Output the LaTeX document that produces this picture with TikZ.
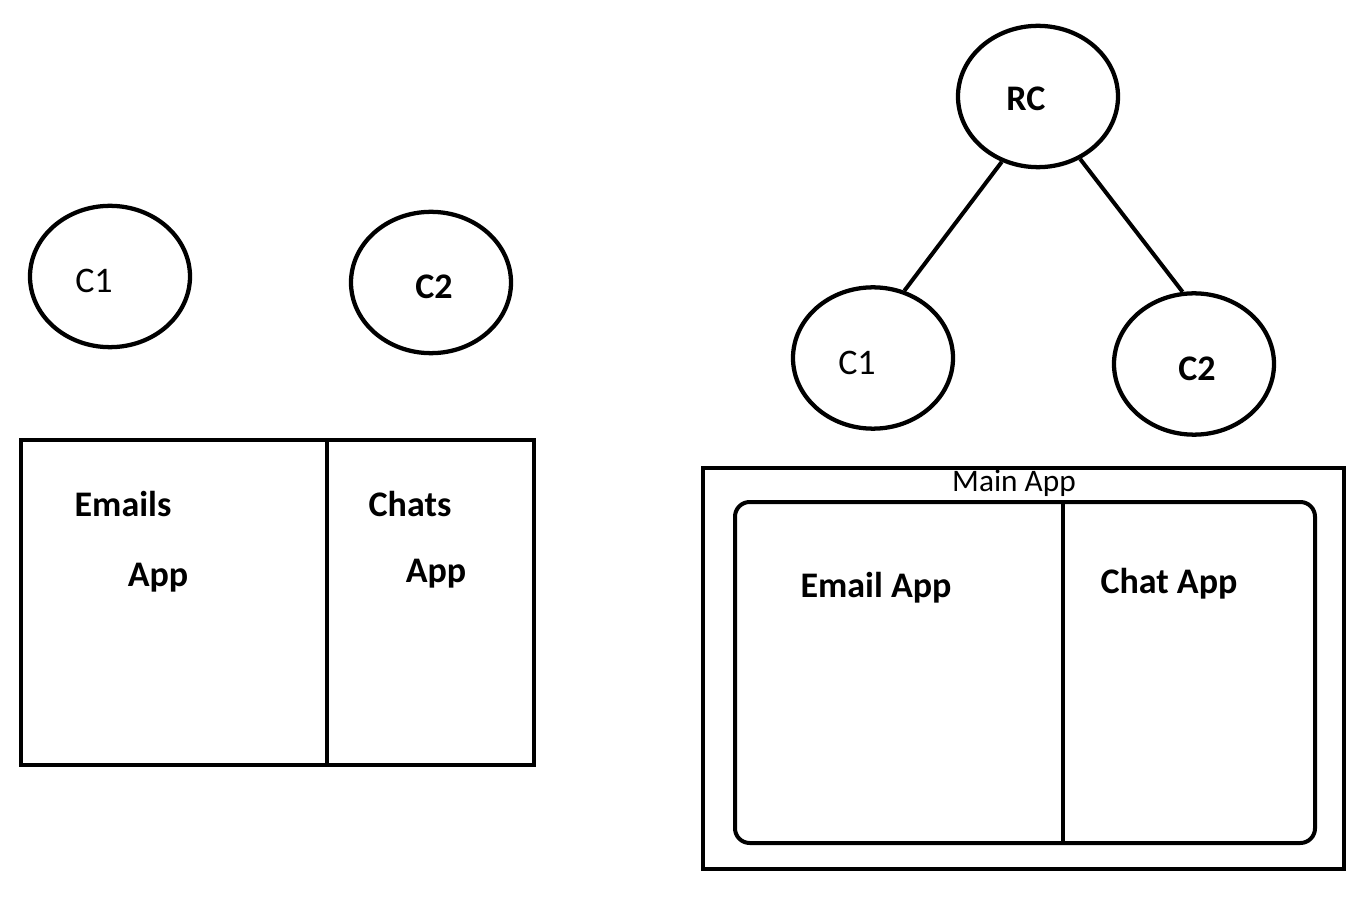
\documentclass[tikz,border=0pt]{standalone}
\usepackage{fontspec}
\setmainfont{Carlito}
\usetikzlibrary{shapes.geometric}
\tikzset{
  circ/.style={draw, line width=3.2pt, ellipse, minimum width=120pt, minimum height=106pt, inner sep=0pt},
  box/.style={draw, line width=3pt},
  lbl/.style={anchor=base, inner sep=0pt, font=\fontsize{27pt}{31pt}\selectfont},
  blbl/.style={lbl, font=\fontsize{27pt}{31pt}\selectfont\bfseries},
  link/.style={line width=3pt},
}
\begin{document}
\begin{tikzpicture}[x=0.75pt, y=-0.75pt]
\useasboundingbox (0,0) rectangle (1365,902);
% left side
\node[circ] (lc1) at (110,276.5) {};
\node[lbl] (lc1t) at (94,293) {C1};
\node[circ] (lc2) at (431,282.5) {};
\node[blbl] (lc2t) at (434,299) {C2};
\draw[box] (21,440) rectangle (534,765);
\coordinate (ldivt) at (327,440);
\coordinate (ldivb) at (327,765);
\draw[link] (ldivt) -- (ldivb);
\node[blbl] (emails) at (123,516) {Emails};
\node[blbl] (eapp) at (158,586) {App};
\node[blbl] (chats) at (410,516) {Chats};
\node[blbl] (capp) at (436,582) {App};
% right side
\node[circ] (rc) at (1038,96.5) {};
\node[blbl] (rct) at (1026,111) {RC};
\node[circ] (rc1) at (873,358) {};
\node[lbl] (rc1t) at (857,375) {C1};
\node[circ] (rc2) at (1194,364) {};
\node[blbl] (rc2t) at (1197,381) {C2};
\draw[link] (rc.241.5) -- (rc1.65.6);
\draw[link] (rc.304) -- (rc2.99.5);
\draw[box] (703,468) rectangle (1344,869);
\node[lbl, font=\fontsize{23.5pt}{27pt}\selectfont] (main) at (1014,492) {Main App};
\draw[box, rounded corners=11pt] (735,502) rectangle (1315,843);
\coordinate (rdivt) at (1063,502);
\coordinate (rdivb) at (1063,843);
\draw[link] (rdivt) -- (rdivb);
\node[blbl] (emailapp) at (876,597) {Email App};
\node[blbl] (chatapp) at (1169,593) {Chat App};
\end{tikzpicture}
\end{document}
